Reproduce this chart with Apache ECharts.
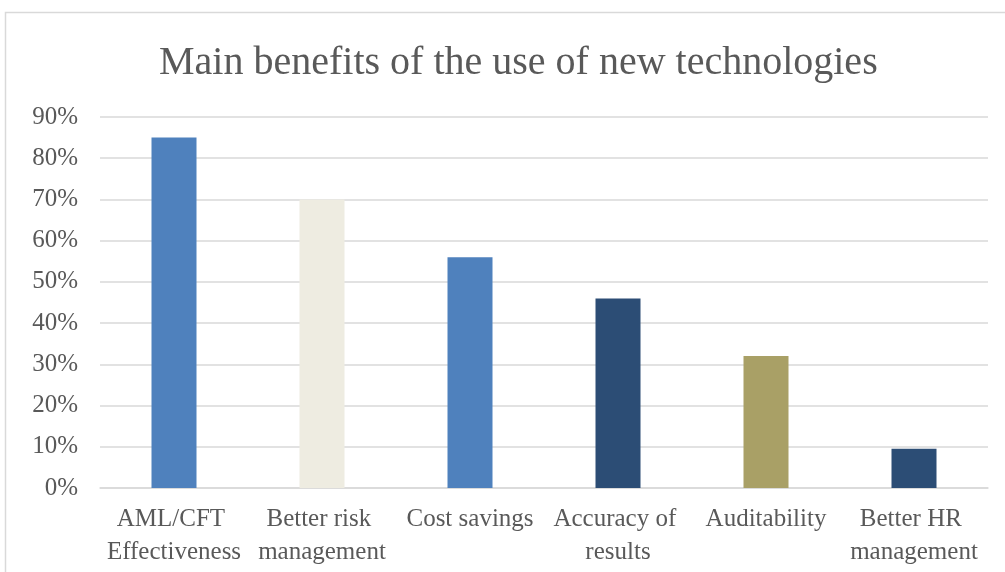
<!DOCTYPE html>
<html>
<head>
<meta charset="utf-8">
<script src="https://cdn.jsdelivr.net/npm/echarts@6/dist/echarts.min.js"></script>
<style>
  html, body { margin: 0; padding: 0; background: #fff; }
  #chart { width: 1005px; height: 572px; }
</style>
</head>
<body>
<div id="chart"></div>
<script>
// data
const categories = ['AML/CFT Effectiveness', 'Better risk management', 'Cost savings', 'Accuracy of results', 'Auditability', 'Better HR management']
const values = [85, 70, 56, 46, 32, 9.5]
const barColors = ['#4F81BD', '#EEECE1', '#4F81BD', '#2C4D75', '#A9A066', '#2C4D75']
const yTicks = [0, 10, 20, 30, 40, 50, 60, 70, 80, 90]

const chart = echarts.init(document.getElementById('chart'))

const serif = '"Liberation Serif", "DejaVu Serif", serif'

chart.setOption({
  animation: false,
  backgroundColor: '#fff',
  // outer chart frame
  graphic: [{
    type: 'rect',
    shape: { x: 5.5, y: 12.5, width: 1010, height: 600 },
    style: { fill: 'none', stroke: '#D9D9D9', lineWidth: 1.5 },
    silent: true
  }],
  title: {
    text: 'Main benefits of the use of new technologies',
    left: 154,
    top: 38,
    textStyle: {
      fontFamily: serif,
      fontSize: 40,
      fontWeight: 'normal',
      color: '#595959'
    }
  },
  grid: {
    left: 100,
    right: 17,
    top: 117,
    bottom: 84,
    containLabel: false
  },
  xAxis: {
    type: 'category',
    data: categories,
    axisLine: { show: true, lineStyle: { color: '#D9D9D9', width: 1.5 } },
    axisTick: { show: false },
    axisLabel: {
      interval: 0,
      margin: 15,
      width: 146,
      overflow: 'break',
      lineHeight: 33,
      fontFamily: serif,
      fontSize: 25,
      color: '#595959'
    }
  },
  yAxis: {
    type: 'value',
    min: yTicks[0],
    max: yTicks[yTicks.length - 1],
    interval: 10,
    axisLine: { show: false },
    axisTick: { show: false },
    splitLine: { lineStyle: { color: '#D9D9D9', width: 1.5 } },
    axisLabel: {
      margin: 22,
      fontFamily: serif,
      fontSize: 25,
      color: '#595959',
      formatter: v => v + '%'
    }
  },
  series: [{
    type: 'bar',
    barWidth: 45,
    data: values.map((v, i) => ({ value: v, itemStyle: { color: barColors[i] } }))
  }]
})
</script>
</body>
</html>
